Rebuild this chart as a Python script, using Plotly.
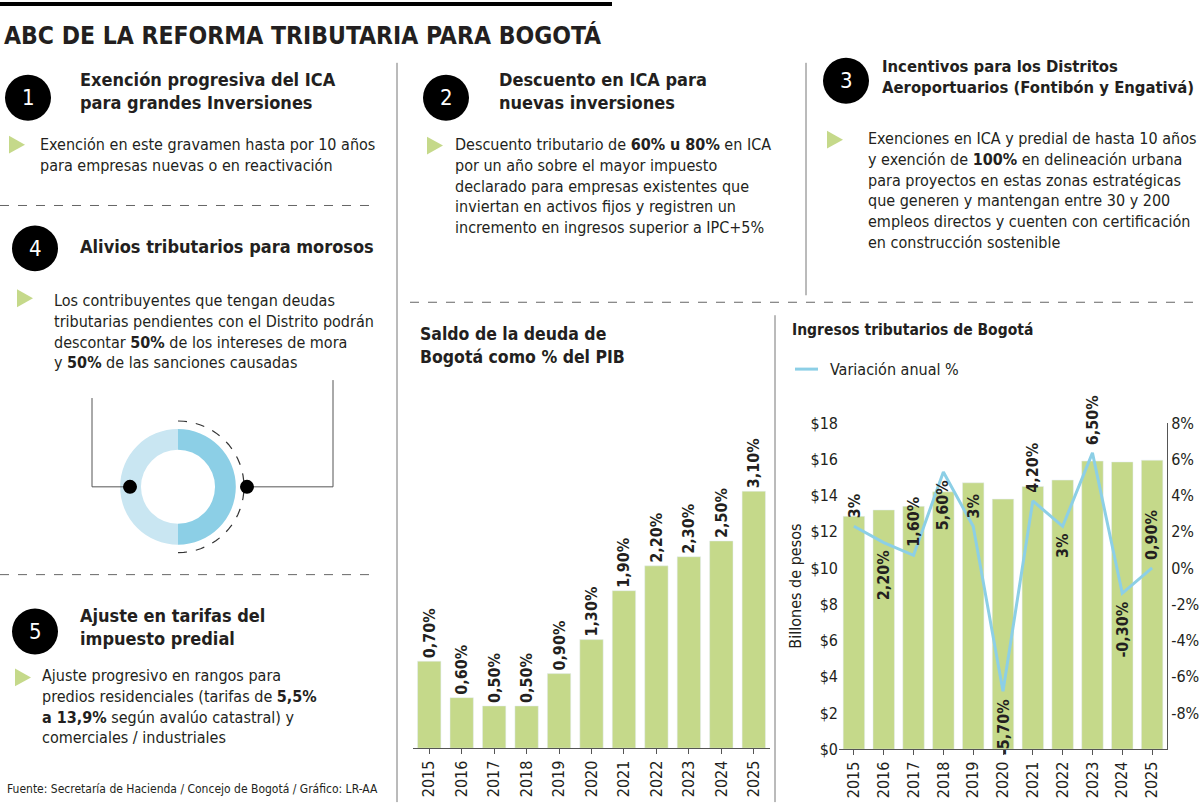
import plotly.graph_objects as go
import math

years = ["2015","2016","2017","2018","2019","2020","2021","2022","2023","2024","2025"]
deuda_bar = [1.05, 0.61, 0.51, 0.51, 0.90, 1.31, 1.90, 2.20, 2.31, 2.50, 3.10]
deuda_lbl = ["0,70%","0,60%","0,50%","0,50%","0,90%","1,30%","1,90%","2,20%","2,30%","2,50%","3,10%"]
ingresos = [12.85, 13.2, 13.4, 14.2, 14.7, 13.8, 14.5, 14.85, 15.9, 15.85, 15.95]
variacion = [2.3, 1.4, 0.7, 5.3, 2.3, -6.8, 3.7, 2.3, 6.35, -1.4, 0.0]
var_lbl = ["3%","2,20%","1,60%","5,60%","3%","-5,70%","4,20%","3%","6,50%","-0,30%","0,90%"]
var_pos = ["up","down","up","down","up","down","up","down","up","down","up"]
left_ticks = [0,2,4,6,8,10,12,14,16,18]
right_ticks = [-8,-6,-4,-2,0,2,4,6,8]

W, H = 1200, 803
FONT = "DejaVu Sans Condensed"
GREEN = "#c5d98a"; BLUE = "#8ccfe6"; TXT = "#231f20"
def F(size, color=TXT):
    return dict(size=size, color=color, family=FONT)
def px(x): return x / W
def py(y):
    y = (y - 8.06) / 0.9786
    return 1 - y / H

fig = go.Figure()
fig.add_trace(go.Bar(x=years, y=deuda_bar, marker_color=GREEN, width=0.72,
                     text=["<b>%s</b>" % t for t in deuda_lbl], textposition="outside",
                     textangle=-90, textfont=F(16), constraintext="none",
                     cliponaxis=False, xaxis="x", yaxis="y", showlegend=False))
fig.add_trace(go.Bar(x=years, y=ingresos, marker_color=GREEN, width=0.72,
                     xaxis="x2", yaxis="y2", showlegend=False))
fig.add_trace(go.Scatter(x=years, y=variacion, mode="lines", line=dict(color=BLUE, width=3),
                         xaxis="x2", yaxis="y3", showlegend=False))

ann = []
for i, (v, t, p) in enumerate(zip(variacion, var_lbl, var_pos)):
    ann.append(dict(x=i, y=v, xref="x2", yref="y3", text="<b>%s</b>" % t, textangle=-90,
                    showarrow=False, yanchor="bottom" if p == "up" else "top",
                    yshift=6 if p == "up" else -6, font=F(16)))

def text(x, y, s, size=16, bold=False, anchor="left", yanchor="top", angle=0, color=TXT):
    if bold: s = "<b>%s</b>" % s
    ann.append(dict(x=px(x), y=py(y), xref="paper", yref="paper", text=s, showarrow=False,
                    xanchor=anchor, yanchor=yanchor, align="left", textangle=angle,
                    font=F(size, color)))

shapes = []
def line(x0, y0, x1, y1, dash="solid", w=1, c="#555"):
    shapes.append(dict(type="line", xref="paper", yref="paper", x0=px(x0), y0=py(y0),
                       x1=px(x1), y1=py(y1), line=dict(color=c, width=w, dash=dash)))
def circle(cx, cy, r, fill="black"):
    shapes.append(dict(type="circle", xref="paper", yref="paper", x0=px(cx-r), x1=px(cx+r),
                       y0=py(cy+r), y1=py(cy-r), fillcolor=fill, line=dict(width=0)))
def tri(x, y):
    shapes.append(dict(type="path", xref="paper", yref="paper",
                       path="M %f %f L %f %f L %f %f Z" % (px(x-7), py(y-9), px(x+9), py(y), px(x-7), py(y+9)),
                       fillcolor=GREEN, line=dict(width=0)))
def num(cx, cy, n, r=23):
    circle(cx, cy, r)
    text(cx, cy, str(n), size=22, anchor="center", yanchor="middle", color="white")

line(0, 3, 612, 3, w=4, c="black")
text(2, 18, "ABC DE LA REFORMA TRIBUTARIA PARA BOGOTÁ", size=24.5, bold=True)

num(28, 97, 1)
text(78, 66, "Exención progresiva del ICA<br>para grandes Inversiones", size=18, bold=True)
tri(16, 144)
text(38, 132, "Exención en este gravamen hasta por 10 años<br>para empresas nuevas o en reactivación", size=16)
line(0, 205, 375, 205, dash="dash", c="#666")

num(446, 97, 2)
text(497, 66, "Descuento en ICA para<br>nuevas inversiones", size=18, bold=True)
tri(434, 145)
text(453, 132, "Descuento tributario de <b>60% u 80%</b> en ICA<br>por un año sobre el mayor impuesto<br>declarado para empresas existentes que<br>inviertan en activos fijos y registren un<br>incremento en ingresos superior a IPC+5%", size=16)

num(846, 80, 3)
text(880, 54, "Incentivos para los Distritos<br>Aeroportuarios (Fontibón y Engativá)", size=16.5, bold=True)
tri(834, 139)
text(866, 126, "Exenciones en ICA y predial de hasta 10 años<br>y exención de <b>100%</b> en delineación urbana<br>para proyectos en estas zonas estratégicas<br>que generen y mantengan entre 30 y 200<br>empleos directos y cuenten con certificación<br>en construcción sostenible", size=16)

num(35, 248, 4)
text(78, 234, "Alivios tributarios para morosos", size=18, bold=True)
tri(24, 298)
text(52, 289, "Los contribuyentes que tengan deudas<br>tributarias pendientes con el Distrito podrán<br>descontar <b>50%</b> de los intereses de mora<br>y <b>50%</b> de las sanciones causadas", size=16)
line(0, 575, 375, 575, dash="dash", c="#666")

num(35, 632, 5)
text(78, 603, "Ajuste en tarifas del<br>impuesto predial", size=18, bold=True)
tri(22, 678)
text(40, 665, "Ajuste progresivo en rangos para<br>predios residenciales (tarifas de <b>5,5%<br>a 13,9%</b> según avalúo catastral) y<br>comerciales / industriales", size=16)
text(5, 790, "Fuente: Secretaría de Hacienda / Concejo de Bogotá / Gráfico: LR-AA", size=12, yanchor="middle")

line(397, 62, 397, 803, c="#777")
line(806, 62, 806, 295, c="#777")
line(775, 315, 775, 803, c="#777")
line(410, 302, 1200, 302, dash="dash", c="#666")

line(130, 487, 92, 487, c="#555"); line(92, 487, 92, 398, c="#555")
line(247, 487, 333, 487, c="#555"); line(333, 487, 333, 380, c="#555")
cx, cy, R = 178, 487, 66
pts = []
for i in range(0, 37):
    a = -math.pi / 2 + math.pi * i / 36
    pts.append((px(cx + R * math.cos(a)), py(cy + R * math.sin(a))))
path = "M " + " L ".join("%f %f" % p for p in pts)
shapes.append(dict(type="path", xref="paper", yref="paper", path=path,
                   line=dict(color="#333", width=1.2, dash="dash")))
fig.add_trace(go.Pie(values=[50, 50], marker=dict(colors=[BLUE, "#c9e6f2"]), hole=0.64,
                     sort=False, direction="clockwise", rotation=0, textinfo="none",
                     hoverinfo="skip", showlegend=False,
                     domain=dict(x=[px(cx-58), px(cx+58)], y=[py(cy+58), py(cy-58)])))
circle(130, 487, 7); circle(247, 487, 7)

text(418, 322, "Saldo de la deuda de<br>Bogotá como % del PIB", size=17.5, bold=True)
text(790, 319, "Ingresos tributarios de Bogotá", size=15.5, bold=True)
line(795, 369, 818, 369, w=3, c=BLUE)
text(828, 369, "Variación anual %", size=16, yanchor="middle")

xax = dict(type="category", range=[-0.5, 10.5], showline=True, linecolor="#555", ticks="outside",
           ticklen=5, tickcolor="#555", tickangle=-90, tickfont=F(16))
fig.update_layout(
    width=W, height=H, margin=dict(l=0, r=0, t=0, b=0), paper_bgcolor="white",
    plot_bgcolor="rgba(0,0,0,0)", annotations=ann, shapes=shapes, bargap=0.25,
    font=F(16),
    xaxis=dict(domain=[px(413), px(770)], anchor="y", **xax),
    yaxis=dict(domain=[py(749), py(400)], range=[0, 4.2], visible=False),
    xaxis2=dict(domain=[px(839), px(1167)], anchor="y2", **xax),
    yaxis2=dict(domain=[py(750), py(423)], range=[0, 18], anchor="x2", tickvals=left_ticks,
                ticktext=["$%d" % v for v in left_ticks], showgrid=False, zeroline=False,
                tickfont=F(16), title=dict(text="Billones de pesos", font=F(16), standoff=4)),
    yaxis3=dict(overlaying="y2", side="right", anchor="x2", range=[-10, 8], tickvals=right_ticks,
                ticktext=["%d%%" % v for v in right_ticks], showgrid=False, zeroline=False,
                showline=True, linecolor="#555", tickfont=F(16)),
)
fig.write_html("out.html", config={"displayModeBar": False},
               post_script="document.body.style.margin='0';document.body.style.padding='0';")
